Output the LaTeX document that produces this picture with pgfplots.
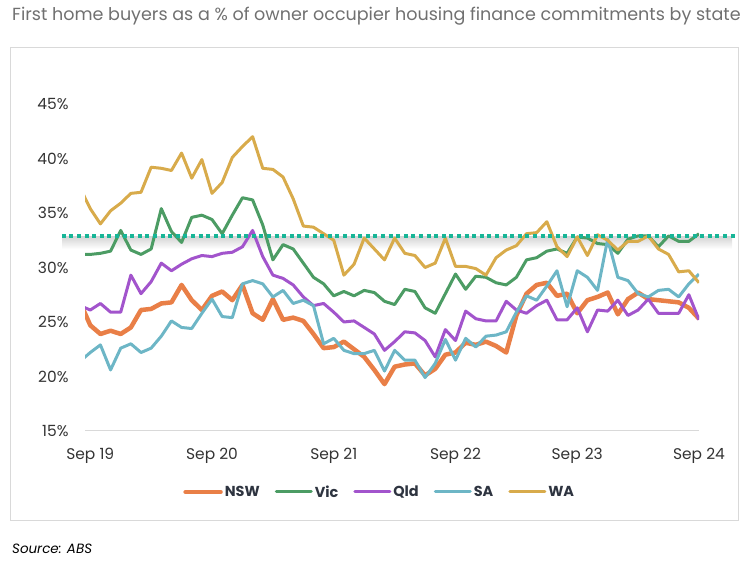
\documentclass[border=0pt]{standalone}
\usepackage{fontspec}
\setmainfont{Poppins}
\usepackage{pgfplots}
\usepackage{pgfplotstable}
\pgfplotsset{compat=1.18}
\definecolor{cnsw}{HTML}{E97F47}
\definecolor{cvic}{HTML}{4C9C64}
\definecolor{cqld}{HTML}{A254CC}
\definecolor{csa}{HTML}{6DB6C6}
\definecolor{cwa}{HTML}{D8AB4B}
\definecolor{cref}{HTML}{17B597}
\definecolor{ctitle}{HTML}{707070}
\definecolor{clab}{HTML}{333333}
\definecolor{cleg}{HTML}{2E3440}

% month index: 0 = Aug 19 ... 61 = Sep 24
\pgfplotstableread{
k nsw vic qld sa wa
0 26.8 31.2 26.5 21.4 37.3
1 24.7 31.2 26.1 22.2 35.4
2 23.9 31.3 26.7 22.9 34.0
3 24.2 31.5 25.9 20.6 35.2
4 23.9 33.4 25.9 22.6 35.9
5 24.5 31.6 29.3 23.0 36.8
6 26.1 31.2 27.6 22.2 36.9
7 26.2 31.7 28.7 22.6 39.2
8 26.7 35.4 30.4 23.7 39.1
9 26.8 33.3 29.7 25.1 38.9
10 28.4 32.3 30.3 24.5 40.5
11 27.0 34.6 30.8 24.4 38.2
12 26.1 34.8 31.1 25.8 39.9
13 27.4 34.4 31.0 27.1 36.8
14 27.8 33.1 31.3 25.5 37.8
15 27.0 34.8 31.4 25.4 40.1
16 28.4 36.4 31.9 28.5 41.1
17 25.8 36.2 33.4 28.8 42.0
18 25.2 33.9 31.0 28.5 39.1
19 27.1 30.7 29.3 27.3 39.0
20 25.2 32.1 29.0 27.9 38.3
21 25.4 31.7 28.4 26.7 36.3
22 25.1 30.4 27.3 27.0 33.8
23 23.9 29.1 26.5 26.5 33.7
24 22.6 28.5 26.7 23.0 33.1
25 22.7 27.4 25.9 23.5 32.5
26 23.2 27.8 25.0 22.4 29.3
27 22.5 27.4 25.1 22.1 30.3
28 21.8 27.9 24.5 22.1 32.7
29 20.6 27.7 23.9 22.4 31.7
30 19.3 26.9 22.4 20.5 30.7
31 20.9 26.6 23.2 22.4 32.7
32 21.1 28.0 24.1 21.5 31.3
33 21.2 27.8 24.0 21.5 31.1
34 20.1 26.3 23.3 19.9 30.0
35 20.7 25.8 21.8 21.2 30.4
36 22.0 27.6 24.3 23.4 32.7
37 22.2 29.4 23.3 21.5 30.1
38 23.1 28.0 26.0 23.5 30.1
39 22.9 29.2 25.3 22.7 29.9
40 23.2 29.1 25.1 23.7 29.3
41 22.8 28.6 25.1 23.8 30.9
42 22.2 28.4 26.9 24.1 31.6
43 25.6 29.1 26.1 25.9 32.0
44 27.6 30.7 25.8 27.4 33.1
45 28.4 30.9 26.5 27.0 33.2
46 28.6 31.5 27.0 28.3 34.2
47 27.4 31.7 25.2 29.7 31.9
48 27.6 31.3 25.2 26.4 31.0
49 25.8 32.8 26.3 29.7 32.8
50 27.0 32.7 24.1 29.1 31.1
51 27.3 32.2 26.1 27.9 33.0
52 27.7 32.1 26.0 32.6 32.5
53 25.7 31.3 27.0 29.1 31.6
54 27.1 32.6 25.6 28.8 32.4
55 27.7 32.9 26.1 27.6 32.4
56 27.1 32.9 27.1 27.3 32.9
57 27.0 31.9 25.8 27.9 31.7
58 26.9 32.9 25.8 28.0 31.2
59 26.8 32.4 25.8 27.3 29.6
60 26.3 32.4 27.5 28.5 29.7
61 25.3 33.1 25.2 29.4 28.6
}\fhbdata

\begin{document}
\begin{tikzpicture}
\useasboundingbox (0,0) rectangle (750bp,562bp);
\draw[black!15, line width=1bp] (10bp,41bp) rectangle (738bp,514bp);
\node[anchor=base west, text=ctitle, inner sep=0pt, font=\fontsize{17.6}{20}\selectfont] at (12bp,541bp)
  {First home buyers as a \% of owner occupier housing finance commitments by state};
\node[anchor=base west, inner sep=0pt, font=\fontsize{13.5}{16}\selectfont\itshape] at (12bp,9bp) {Source: ABS};
% soft shadow under the reference line
\shade[top color=black!16, bottom color=white] (62bp,313bp) rectangle (732bp,325bp);
\begin{axis}[
  at={(85bp,131bp)}, anchor=south west,
  scale only axis, width=614bp, height=327bp,
  xmin=0.48, xmax=61, ymin=15, ymax=45,
  axis x line*=bottom, axis y line*=left,
  axis line style={-},
  x axis line style={draw=black!15, line width=1bp},
  y axis line style={draw=none},
  major tick length=0pt,
  xtick={1,13,25,37,49,61},
  xticklabels={Sep 19,Sep 20,Sep 21,Sep 22,Sep 23,Sep 24},
  ytick={15,20,25,30,35,40,45},
  yticklabel={\pgfmathprintnumber{\tick}\%},
  /pgf/number format/assume math mode=true,
  tick label style={font=\fontsize{15.5}{17}\selectfont, text=clab},
  xticklabel style={yshift=-14bp},
  yticklabel style={xshift=-13bp},
  line join=round,
  legend columns=5,
  legend style={at={(0.48,-0.1865)}, anchor=center, draw=none, fill=none,
    font=\fontsize{14.5}{16}\selectfont\bfseries, text=cleg,
    /tikz/every even column/.append style={column sep=13bp},
    nodes={inner xsep=2bp}},
  legend image code/.code={\draw[#1, line cap=round] (0bp,0bp) -- (35bp,0bp);},
]
\addplot[cnsw, line width=4.5bp] table[x=k, y=nsw] {\fhbdata};
\addlegendentry{NSW}
\addplot[cvic, line width=3bp] table[x=k, y=vic] {\fhbdata};
\addlegendentry{Vic}
\addplot[cqld, line width=3bp] table[x=k, y=qld] {\fhbdata};
\addlegendentry{Qld}
\addplot[csa, line width=3bp] table[x=k, y=sa] {\fhbdata};
\addlegendentry{SA}
\addplot[cwa, line width=3bp] table[x=k, y=wa] {\fhbdata};
\addlegendentry{WA}
\coordinate (refL) at (axis cs:-1.8,32.9);
\coordinate (refR) at (axis cs:64.5,32.9);
\end{axis}
\draw[cref, line width=4bp, dash pattern=on 4bp off 3.6bp] (refL) -- (refR);
\end{tikzpicture}
\end{document}
